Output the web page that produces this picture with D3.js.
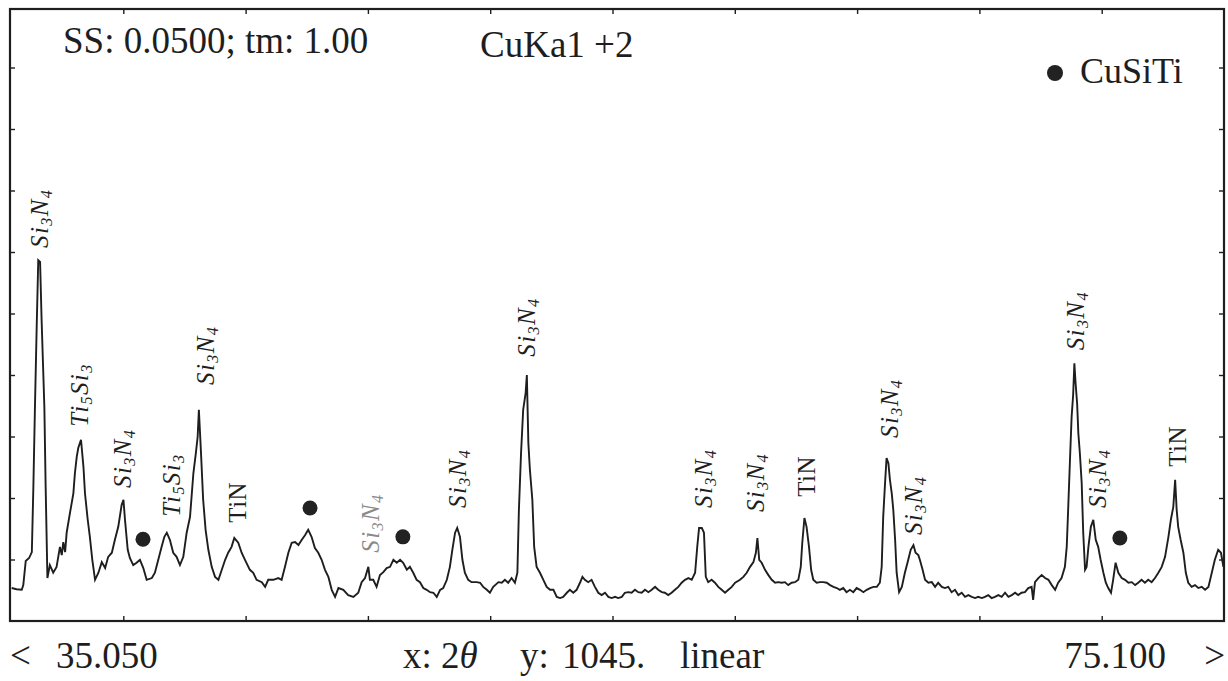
<!DOCTYPE html>
<html>
<head>
<meta charset="utf-8">
<script src="https://cdn.jsdelivr.net/npm/d3@7"></script>
<style>
  html, body { margin: 0; padding: 0; background: #fff; }
  svg { display: block; }
  text { font-family: "Liberation Serif", "Times New Roman", serif; fill: #1e1e1e; }
</style>
</head>
<body>
<svg id="chart" width="1228" height="681"></svg>
<script>
// XRD scan, CuKα1+2, 2θ from 35.050° to 75.100°, full scale 1045 counts
const twoTheta = [
  35.40, 35.56, 35.73, 35.78, 35.86, 35.97, 36.06, 36.11, 36.16, 36.22, 36.27, 36.33, 36.38, 36.47, 36.51, 36.57,
  36.65, 36.76, 36.87, 36.98, 37.04, 37.09, 37.15, 37.20, 37.31, 37.42, 37.47, 37.53, 37.58, 37.67, 37.75, 37.80,
  37.89, 37.96, 38.04, 38.13, 38.24, 38.35, 38.46, 38.56, 38.68, 38.78, 38.89, 39.00, 39.06, 39.11, 39.20, 39.27,
  39.38, 39.49, 39.60, 39.71, 39.82, 39.99, 40.09, 40.20, 40.31, 40.40, 40.48, 40.58, 40.69, 40.80, 40.91, 41.02,
  41.13, 41.24, 41.35, 41.43, 41.49, 41.53, 41.60, 41.67, 41.75, 41.84, 41.95, 42.06, 42.17, 42.28, 42.39, 42.49,
  42.60, 42.69, 42.82, 42.93, 43.04, 43.20, 43.31, 43.42, 43.59, 43.70, 43.80, 43.97, 44.13, 44.24, 44.35, 44.46,
  44.57, 44.68, 44.79, 44.90, 45.01, 45.11, 45.22, 45.33, 45.44, 45.55, 45.66, 45.77, 45.88, 45.99, 46.10, 46.26,
  46.42, 46.59, 46.75, 46.86, 46.97, 47.08, 47.13, 47.24, 47.35, 47.46, 47.57, 47.68, 47.79, 47.90, 48.01, 48.12,
  48.22, 48.34, 48.44, 48.55, 48.66, 48.77, 48.88, 48.99, 49.10, 49.21, 49.32, 49.43, 49.53, 49.65, 49.75, 49.83,
  49.92, 49.99, 50.08, 50.16, 50.24, 50.35, 50.46, 50.63, 50.74, 50.84, 50.96, 51.06, 51.17, 51.34, 51.45, 51.55,
  51.66, 51.77, 51.88, 51.96, 52.01, 52.08, 52.15, 52.23, 52.27, 52.32, 52.37, 52.45, 52.51, 52.59, 52.70, 52.81,
  52.92, 53.03, 53.14, 53.25, 53.36, 53.46, 53.58, 53.68, 53.79, 53.90, 54.01, 54.09, 54.17, 54.28, 54.39, 54.50,
  54.61, 54.72, 54.83, 54.94, 55.05, 55.16, 55.26, 55.38, 55.48, 55.59, 55.70, 55.81, 55.92, 56.03, 56.14, 56.25,
  56.36, 56.47, 56.57, 56.69, 56.79, 56.90, 57.01, 57.12, 57.23, 57.34, 57.45, 57.56, 57.67, 57.78, 57.85, 57.91,
  58.00, 58.07, 58.13, 58.21, 58.32, 58.43, 58.54, 58.65, 58.76, 58.87, 58.98, 59.09, 59.25, 59.36, 59.47, 59.58,
  59.69, 59.77, 59.82, 59.88, 59.96, 60.07, 60.18, 60.29, 60.40, 60.50, 60.62, 60.72, 60.83, 60.94, 61.05, 61.16,
  61.24, 61.29, 61.36, 61.43, 61.51, 61.58, 61.65, 61.76, 61.87, 61.98, 62.09, 62.20, 62.31, 62.42, 62.52, 62.63,
  62.74, 62.85, 62.96, 63.07, 63.18, 63.29, 63.40, 63.51, 63.62, 63.73, 63.83, 63.89, 63.94, 64.00, 64.05, 64.11,
  64.16, 64.22, 64.27, 64.33, 64.38, 64.46, 64.55, 64.65, 64.76, 64.84, 64.93, 65.00, 65.09, 65.14, 65.23, 65.31,
  65.42, 65.53, 65.64, 65.74, 65.86, 65.96, 66.07, 66.18, 66.29, 66.40, 66.51, 66.62, 66.73, 66.84, 66.95, 67.05,
  67.17, 67.27, 67.38, 67.49, 67.60, 67.71, 67.82, 67.93, 68.04, 68.15, 68.26, 68.36, 68.47, 68.58, 68.69, 68.80,
  68.85, 68.91, 69.02, 69.13, 69.24, 69.35, 69.46, 69.57, 69.67, 69.78, 69.89, 69.95, 70.00, 70.06, 70.11, 70.16,
  70.20, 70.24, 70.29, 70.33, 70.38, 70.44, 70.49, 70.55, 70.60, 70.66, 70.74, 70.82, 70.90, 70.98, 71.06, 71.15,
  71.23, 71.31, 71.40, 71.47, 71.55, 71.64, 71.75, 71.86, 71.97, 72.08, 72.19, 72.29, 72.40, 72.51, 72.62, 72.73,
  72.84, 72.95, 73.06, 73.17, 73.28, 73.36, 73.44, 73.50, 73.55, 73.60, 73.68, 73.77, 73.85, 73.93, 74.04, 74.15,
  74.26, 74.37, 74.48, 74.59, 74.70, 74.80, 74.91, 75.00, 75.08
];
const intensity = [
  56, 54, 53, 61, 102, 107, 117, 228, 359, 503, 613, 610, 511, 364, 234, 73,
  95, 82, 92, 126, 112, 134, 117, 150, 184, 217, 251, 279, 294, 308, 262, 217,
  172, 143, 104, 70, 82, 100, 90, 109, 116, 138, 160, 197, 206, 172, 121, 107,
  95, 99, 104, 90, 70, 73, 82, 104, 126, 143, 150, 138, 116, 109, 95, 109,
  150, 177, 251, 285, 313, 359, 285, 206, 155, 121, 92, 75, 70, 87, 104, 116,
  126, 141, 133, 116, 104, 87, 82, 70, 66, 58, 70, 70, 73, 70, 92, 116,
  133, 134, 129, 138, 146, 155, 143, 124, 116, 104, 87, 75, 53, 41, 56, 53,
  44, 41, 48, 66, 73, 92, 70, 70, 58, 78, 83, 90, 92, 104, 99, 104,
  99, 87, 92, 82, 70, 66, 56, 53, 49, 48, 41, 53, 56, 70, 92, 121,
  150, 158, 143, 104, 82, 70, 66, 66, 65, 58, 53, 48, 58, 66, 65, 70,
  65, 73, 65, 82, 189, 285, 359, 387, 418, 302, 257, 206, 126, 92, 82, 70,
  58, 53, 53, 41, 39, 41, 48, 53, 48, 53, 65, 75, 70, 66, 70, 58,
  48, 44, 48, 41, 39, 41, 39, 41, 48, 49, 48, 53, 49, 48, 53, 49,
  53, 58, 53, 49, 48, 44, 48, 53, 58, 65, 70, 73, 70, 82, 126, 158,
  158, 150, 75, 66, 70, 65, 58, 53, 48, 53, 58, 65, 70, 75, 82, 92,
  100, 116, 141, 104, 99, 87, 78, 70, 65, 66, 65, 66, 61, 65, 66, 70,
  92, 133, 175, 160, 126, 87, 70, 65, 66, 66, 65, 61, 58, 56, 53, 56,
  49, 53, 49, 56, 53, 49, 53, 56, 58, 58, 65, 92, 177, 234, 277, 268,
  240, 217, 189, 138, 82, 49, 58, 82, 104, 121, 129, 116, 112, 104, 87, 70,
  65, 66, 58, 65, 58, 56, 58, 49, 53, 44, 48, 41, 44, 41, 39, 41,
  39, 41, 44, 39, 41, 44, 41, 48, 41, 44, 48, 44, 48, 49, 56, 58,
  36, 66, 73, 78, 73, 70, 61, 53, 65, 73, 92, 126, 194, 279, 347, 384,
  438, 404, 370, 319, 285, 234, 150, 87, 92, 126, 160, 172, 138, 126, 104, 82,
  65, 56, 48, 70, 99, 82, 73, 70, 65, 66, 61, 65, 70, 65, 70, 66,
  73, 82, 92, 109, 143, 172, 194, 240, 189, 160, 138, 116, 82, 65, 58, 61,
  56, 58, 53, 58, 82, 104, 121, 116, 92
];

// Frame divisions
const xDomain = [35.05, 75.10];
const yDomain = [0, 1045];
const xDivisions = d3.range(1, 10).map(k => 35.05 + k * 4.005);
const yDivisions = d3.range(1, 10).map(k => k * 104.5);

// Phase labels: text, 2θ position, count level at the start of the label
const labelText  = ["Si3N4", "Ti5Si3", "Si3N4", "Ti5Si3", "Si3N4", "TiN", "Si3N4", "Si3N4", "Si3N4",
                    "Si3N4", "Si3N4", "TiN", "Si3N4", "Si3N4", "Si3N4", "Si3N4", "TiN"];
const labelTheta = [36.33, 37.64, 39.05, 40.65, 41.76, 42.81, 47.17, 50.02, 52.28,
                    58.07, 59.77, 61.44, 64.16, 64.95, 70.25, 70.97, 73.59];
const labelLevel = [634, 330, 226, 177, 401, 167, 116, 192, 449,
                    192, 185, 211, 311, 146, 460, 192, 262];
const labelFaint = [false, false, false, false, false, false, true, false, false,
                    false, false, false, false, false, false, false, false];

// CuSiTi reflections marked with a dot
const dotTheta = [39.70, 45.17, 48.21, 71.69];
const dotLevel = [139, 192, 143, 141];

const svg = d3.select("#chart");
const frame = { left: 10, right: 1224, top: 9, bottom: 621 };

const x = d3.scaleLinear().domain(xDomain).range([1, 1224]);
const y = d3.scaleLinear().domain(yDomain).range([621, 6]);

const ink = "#1e1e1e";

// Plot frame
svg.append("rect")
  .attr("x", frame.left).attr("y", frame.top)
  .attr("width", frame.right - frame.left).attr("height", frame.bottom - frame.top)
  .attr("fill", "none").attr("stroke", ink).attr("stroke-width", 2.2);

// Inward tick marks on all four sides
const tickLen = 5;
const bottomAxis = d3.axisBottom(x).tickValues(xDivisions).tickSize(-tickLen).tickFormat("");
const topAxis = d3.axisTop(x).tickValues(xDivisions).tickSize(-tickLen).tickFormat("");
const leftAxis = d3.axisLeft(y).tickValues(yDivisions).tickSize(-tickLen).tickFormat("");
const rightAxis = d3.axisRight(y).tickValues(yDivisions).tickSize(-tickLen).tickFormat("");

function styleAxis(g) {
  g.select(".domain").remove();
  g.selectAll(".tick line").attr("stroke", ink).attr("stroke-width", 1.4);
}
svg.append("g").attr("transform", `translate(0,${frame.bottom})`).call(bottomAxis).call(styleAxis);
svg.append("g").attr("transform", `translate(0,${frame.top})`).call(topAxis).call(styleAxis);
svg.append("g").attr("transform", `translate(${frame.left},0)`).call(leftAxis).call(styleAxis);
svg.append("g").attr("transform", `translate(${frame.right},0)`).call(rightAxis).call(styleAxis);

// Diffraction trace
const points = twoTheta.map((t, i) => [t, intensity[i]]);
const line = d3.line().x(d => x(d[0])).y(d => y(d[1])).curve(d3.curveLinear);
svg.append("path")
  .datum(points)
  .attr("d", line)
  .attr("fill", "none")
  .attr("stroke", ink)
  .attr("stroke-width", 1.9)
  .attr("stroke-linejoin", "miter");

// Rotated phase labels with subscripts
const labels = svg.append("g");
labelText.forEach((txt, i) => {
  const italic = txt !== "TiN";
  const t = labels.append("text")
    .attr("transform", `translate(${x(labelTheta[i])},${y(labelLevel[i])}) rotate(-90)`)
    .attr("dy", "0.32em")
    .attr("font-size", 25)
    .attr("letter-spacing", italic ? 1.4 : 0.5)
    .attr("font-style", italic ? "italic" : "normal")
    .style("fill", labelFaint[i] ? "#8a8a8a" : ink);
  // split into runs: letters normal, digits lowered and smaller
  const runs = txt.match(/[A-Za-z]+|\d+/g);
  let lowered = false;
  runs.forEach(r => {
    const isDigit = /\d/.test(r);
    const span = t.append("tspan").text(r);
    if (isDigit) {
      span.attr("font-size", 16).attr("dy", lowered ? 0 : 4);
      lowered = true;
    } else {
      if (lowered) span.attr("dy", -4);
      lowered = false;
    }
  });
});

// CuSiTi dots
svg.append("g").selectAll("circle")
  .data(dotTheta)
  .join("circle")
  .attr("cx", d => x(d))
  .attr("cy", (d, i) => y(dotLevel[i]))
  .attr("r", 7.5)
  .attr("fill", "#222");

// Header texts
svg.append("text").attr("x", 63).attr("y", 53).attr("font-size", 37).text("SS: 0.0500; tm: 1.00");
svg.append("text").attr("x", 480).attr("y", 57).attr("font-size", 37).text("CuKa1 +2");

// Legend
svg.append("circle").attr("cx", 1055).attr("cy", 73).attr("r", 8).attr("fill", "#222");
svg.append("text").attr("x", 1080).attr("y", 83).attr("font-size", 36).text("CuSiTi");

// Footer: scan range and axis description
const footY = 668;
const foot = svg.append("g").attr("font-size", 37);
foot.append("text").attr("x", 10).attr("y", footY).text("<");
foot.append("text").attr("x", 56).attr("y", footY).text(d3.format(".3f")(xDomain[0]));
foot.append("text").attr("x", 403).attr("y", footY).html("x: 2<tspan font-style='italic'>θ</tspan>");
foot.append("text").attr("x", 520).attr("y", footY).text("y:");
foot.append("text").attr("x", 562).attr("y", footY).text(yDomain[1] + ".");
foot.append("text").attr("x", 680).attr("y", footY).text("linear");
foot.append("text").attr("x", 1166).attr("y", footY).attr("text-anchor", "end").text(d3.format(".3f")(xDomain[1]));
foot.append("text").attr("x", 1225).attr("y", footY).attr("text-anchor", "end").text(">");
</script>
</body>
</html>
